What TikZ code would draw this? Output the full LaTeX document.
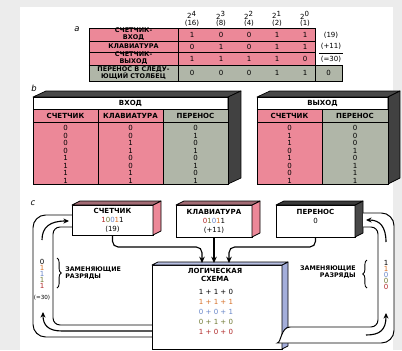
\documentclass[tikz,border=0pt]{standalone}
\usepackage{fontspec}
\newfontfamily\dv{DejaVu Sans}
\usetikzlibrary{arrows.meta,calc,decorations.pathreplacing}
\definecolor{pk}{RGB}{236,136,152}
\definecolor{gg}{RGB}{176,182,168}
\definecolor{dk}{RGB}{72,72,72}
\definecolor{lbl}{RGB}{164,174,218}
\definecolor{bgg}{RGB}{236,236,236}
\definecolor{cO}{RGB}{214,112,40}
\definecolor{cB}{RGB}{104,134,200}
\definecolor{cG}{RGB}{112,122,52}
\definecolor{cR}{RGB}{176,40,40}
\newcommand\fL{\dv\bfseries\fontsize{5}{5.4}\selectfont}
\newcommand\fA{\dv\bfseries\fontsize{4.6}{5}\selectfont}
\newcommand\fS{\dv\bfseries\fontsize{4.5}{5.4}\selectfont}
\newcommand\fD{\dv\mdseries\fontsize{5}{5.4}\selectfont}
\newcommand\fT{\dv\mdseries\fontsize{4}{5}\selectfont}
\newcommand\fI{\dv\itshape\fontsize{6}{7}\selectfont}
\begin{document}
\begin{tikzpicture}[x=0.25mm,y=-0.25mm,
 lab/.style={font=\fL,align=center,inner sep=0pt},
 laba/.style={font=\fA,align=center,inner sep=0pt},
 dg/.style={font=\fD,inner sep=0pt},
 lt/.style={font=\fI,inner sep=0pt},
 grid/.style={line width=0.5pt},
 box/.style={draw,line width=0.6pt,fill=white,inner sep=0pt,outer sep=0pt,font=\fL,align=center},
 face/.style={draw,line width=0.5pt,line join=round},
 conn/.style={line width=0.8pt,-{Stealth[length=4.5pt,width=4pt]}},
 pipe/.style={line width=0.7pt},
 arr/.style={line width=0.8pt,-{Stealth[length=4pt,width=3.6pt]}}]
\useasboundingbox (0,0) rectangle (402,350);
\fill[bgg] (0,0) rectangle (402,350);
\fill[white] (20,7) rectangle (393,350);
% ---------- part a
\node[lt] (la) at (77,29) {a};
\foreach \x/\e/\v [count=\i] in {192/4/16,221/3/8,249/2/4,277/1/2,305/0/1}{
  \node[dg] (hx\i) at (\x,15) {2\textsuperscript{\e}};
  \node[dg] (hv\i) at (\x,23) {(\v)};
}
\fill[pk] (89,28) rectangle (315,65);
\fill[gg] (89,65) rectangle (342,81);
\draw[grid] (89,28) rectangle (315,81);
\draw[grid] (89,41) -- (315,41) (89,52) -- (315,52) (89,65) -- (315,65) (178,28) -- (178,81);
\draw[grid] (315,65) rectangle (342,81);
\node[laba] (ra1) at (133.5,34.5) {СЧЕТЧИК-\\ВХОД};
\node[laba] (ra2) at (133.5,46.5) {КЛАВИАТУРА};
\node[laba] (ra3) at (133.5,58.5) {СЧЕТЧИК-\\ВЫХОД};
\node[laba] (ra4) at (133.5,73) {ПЕРЕНОС В СЛЕДУ-\\ЮЩИЙ СТОЛБЕЦ};
\foreach \y/\a/\b/\c/\d/\e [count=\r] in {34.5/1/0/0/1/1,46.5/0/1/0/1/1,58.5/1/1/1/1/0,73/0/0/0/1/1}{
  \node[dg] (a\r a) at (192,\y) {\a};
  \node[dg] (a\r b) at (221,\y) {\b};
  \node[dg] (a\r c) at (249,\y) {\c};
  \node[dg] (a\r d) at (277,\y) {\d};
  \node[dg] (a\r e) at (305,\y) {\e};
}
\node[dg] (ex) at (328.5,73) {0};
\node[dg] (s19) at (331,35) {(19)};
\node[dg] (s11) at (331,46.5) {(+11)};
\draw[grid] (319,53) -- (343,53);
\node[dg] (s30) at (331,59.5) {(=30)};
% ---------- part b
\node[lt] (lb) at (34,88) {b};
\filldraw[face,fill=dk] (33,97) -- (46,91) -- (241,91) -- (228,97) -- cycle;
\filldraw[face,fill=dk!90!black] (228,97) -- (241,91) -- (241,178) -- (228,184) -- cycle;
\fill[pk] (33,109) rectangle (163,184);
\fill[gg] (163,109) rectangle (228,184);
\draw[grid] (33,97) rectangle (228,184);
\draw[grid] (33,109) -- (228,109) (33,122) -- (228,122) (98,109) -- (98,184) (163,109) -- (163,184);
\node[lab] (vh) at (130.5,103) {ВХОД};
\node[lab] (v1) at (65.5,115.5) {СЧЕТЧИК};
\node[lab] (v2) at (130.5,115.5) {КЛАВИАТУРА};
\node[lab] (v3) at (195.5,115.5) {ПЕРЕНОС};
\foreach \a/\b/\c [count=\i] in {0/0/0,0/0/1,0/1/0,0/1/1,1/0/0,1/0/1,1/1/0,1/1/1}{
  \node[dg] (b\i a) at (65.5,120.5+7.5*\i) {\a};
  \node[dg] (b\i b) at (130.5,120.5+7.5*\i) {\b};
  \node[dg] (b\i c) at (195.5,120.5+7.5*\i) {\c};
}
\filldraw[face,fill=dk] (257,97) -- (270,91) -- (400,91) -- (388,97) -- cycle;
\filldraw[face,fill=dk!90!black] (388,97) -- (400,91) -- (400,178) -- (388,184) -- cycle;
\fill[pk] (257,109) rectangle (322,184);
\fill[gg] (322,109) rectangle (388,184);
\draw[grid] (257,97) rectangle (388,184);
\draw[grid] (257,109) -- (388,109) (257,122) -- (388,122) (322,109) -- (322,184);
\node[lab] (wh) at (322.5,103) {ВЫХОД};
\node[lab] (w1) at (289.5,115.5) {СЧЕТЧИК};
\node[lab] (w2) at (355,115.5) {ПЕРЕНОС};
\foreach \a/\b [count=\i] in {0/0,1/0,1/0,0/1,1/0,0/1,0/1,1/1}{
  \node[dg] (c\i a) at (289.5,120.5+7.5*\i) {\a};
  \node[dg] (c\i b) at (355,120.5+7.5*\i) {\b};
}
% ---------- part c
\node[lt] (lc) at (33,203) {c};
\node[box,minimum width=20.25mm,minimum height=7.5mm] (sch) at (112.5,220)
  {СЧЕТЧИК\\[1pt]{\fD\textcolor{cR}{1}\textcolor{cG}{0}\textcolor{cB}{0}\textcolor{cO}{1}1}\\[1pt]{\fD (19)}};
\filldraw[face,fill=pk] (sch.north east) -- ++(8,-4) -- ($(sch.south east)+(8,-4)$) -- (sch.south east) -- cycle;
\filldraw[face,fill=pk!55!dk] (sch.north west) -- ++(8,-4) -- ($(sch.north east)+(8,-4)$) -- (sch.north east) -- cycle;
\node[box,minimum width=19mm,minimum height=8mm] (kl) at (214,221)
  {КЛАВИАТУРА\\[1pt]{\fD\textcolor{cR}{0}\textcolor{cG}{1}\textcolor{cB}{0}\textcolor{cO}{1}1}\\[1pt]{\fD (+11)}};
\filldraw[face,fill=pk] (kl.north east) -- ++(8,-4) -- ($(kl.south east)+(8,-4)$) -- (kl.south east) -- cycle;
\filldraw[face,fill=pk!55!dk] (kl.north west) -- ++(8,-4) -- ($(kl.north east)+(8,-4)$) -- (kl.north east) -- cycle;
\node[box,minimum width=19.75mm,minimum height=8mm] (pe) at (315.5,221)
  {ПЕРЕНОС\\[1pt]{\fD 0}\\[1pt]\mbox{}};
\filldraw[face,fill=dk] (pe.north east) -- ++(8,-4) -- ($(pe.south east)+(8,-4)$) -- (pe.south east) -- cycle;
\filldraw[face,fill=dk!80!black] (pe.north west) -- ++(8,-4) -- ($(pe.north east)+(8,-4)$) -- (pe.north east) -- cycle;
% logic box
\node[box,minimum width=32.5mm,minimum height=21mm] (lg) at (217,307) {};
\filldraw[face,fill=lbl] (lg.north east) -- ++(6,-3) -- ($(lg.south east)+(6,-3)$) -- (lg.south east) -- cycle;
\filldraw[face,fill=lbl!80!white] (lg.north west) -- ++(6,-3) -- ($(lg.north east)+(6,-3)$) -- (lg.north east) -- cycle;
\node[lab] (lgt) at (215,275) {ЛОГИЧЕСКАЯ\\СХЕМА};
\node[dg] (q1) at (216,292) {1 + 1 + 0};
\node[dg,text=cO] (q2) at (216,302) {1 + 1 + 1};
\node[dg,text=cB] (q3) at (216,312) {0 + 0 + 1};
\node[dg,text=cG] (q4) at (216,322) {0 + 1 + 0};
\node[dg,text=cR] (q5) at (216,332) {1 + 0 + 0};
% connectors into logic box
\coordinate (t1) at ($(lg.north)+(-15,-2)$);
\coordinate (t3) at ($(lg.north)+(12,-2)$);
\draw[conn,rounded corners=4pt] (sch.south) |- ($(t1)+(0,-16)$) -- (t1);
\draw[conn] (kl.south) -- (kl.south |- t1);
\draw[conn,rounded corners=4pt] (pe.south) |- ($(t3)+(0,-16)$) -- (t3);
% left pipe
\coordinate (lo1) at (33,215);
\coordinate (lo2) at (33,337);
\coordinate (li1) at (53,227);
\coordinate (li2) at (53,325);
\draw[pipe,rounded corners=9pt] ($(sch.north west)+(0,10)$) -- (lo1) -- (lo2) -- (lg.west |- lo2);
\draw[pipe,rounded corners=5pt] ($(sch.north west)+(0,22)$) -- (li1) -- (li2) -- (lg.west |- li2);
\coordinate (lm) at (62,331);
\coordinate (lb1) at (42,240);
\coordinate (lb2) at (43,312);
\draw[arr] (lb1) .. controls (42,227) and (50,221) .. ($(sch.north west)+(-3,16)$);
\draw[arr] (lg.west |- lm) -- (lm) .. controls (48,331) and (43,325) .. (lb2);
\foreach \d/\c/\y [count=\i] in {0/black/262,1/cO/268,1/cB/274,1/cG/280,1/cR/286}{
  \node[dg,text=\c] (zl\i) at (42,\y) {\d};
}
\node[font=\fT,inner sep=0pt] (z30) at (42,298) {(=30)};
\draw[line width=0.6pt,decorate,decoration={brace,amplitude=3pt}] (57,258) -- (57,288);
\node[font=\fS,align=left,anchor=west,inner sep=0pt] (zam1) at (65,273) {ЗАМЕНЯЮЩИЕ\\РАЗРЯДЫ};
% right pipe
\draw[pipe,fill=white,rounded corners=9pt] ($(pe.north east)+(8,8)$) -- (394,213) -- (394,343) -- (290,343)
  [sharp corners] .. controls (281,343) and (281,327) .. (290,327) [rounded corners=5pt] -- (378,327) -- (378,227) -- ($(pe.north east)+(8,22)$);
\coordinate (rt1) at (386,242);
\coordinate (rb1) at (366,335);
\coordinate (rb2) at (386,313);
\draw[arr] (rt1) .. controls (386,227) and (380,220) .. ($(pe.north east)+(11,15)$);
\draw[arr] (rb1) .. controls (380,335) and (386,330) .. (rb2);
\foreach \d/\c/\y [count=\i] in {1/black/263,1/cO/269,0/cB/275,0/cG/281,0/cR/287}{
  \node[dg,text=\c] (zr\i) at (386,\y) {\d};
}
\draw[line width=0.6pt,decorate,decoration={brace,amplitude=3pt}] (367,288) -- (367,260);
\node[font=\fS,align=right,anchor=east,inner sep=0pt] (zam2) at (356,272) {ЗАМЕНЯЮЩИЕ\\РАЗРЯДЫ};
\end{tikzpicture}
\end{document}
